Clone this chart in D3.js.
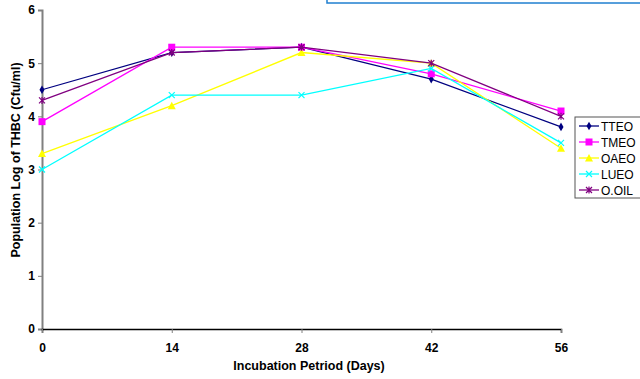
<!DOCTYPE html>
<html>
<head>
<meta charset="utf-8">
<script src="https://cdn.jsdelivr.net/npm/d3@7"></script>
<style>
body { margin: 0; background: #fff; }
svg { font-family: Arial, "Liberation Sans", sans-serif; }
.tick text { font-weight: bold; font-size: 12px; fill: #000; }
</style>
</head>
<body>
<svg width="640" height="379"></svg>
<script>
// values
var days = [0, 14, 28, 42, 56];
var ttEO  = [4.5, 5.2, 5.3, 4.7, 3.8];
var tmEO  = [3.9, 5.3, 5.3, 4.8, 4.1];
var oaEO  = [3.3, 4.2, 5.2, 5.0, 3.4];
var luEO  = [3.0, 4.4, 4.4, 4.9, 3.5];
var oOil  = [4.3, 5.2, 5.3, 5.0, 4.0];
var yTicks = [0, 1, 2, 3, 4, 5, 6];

var series = [
  { name: "TTEO",  values: ttEO, color: "#000080", mark: "diamond" },
  { name: "TMEO",  values: tmEO, color: "#ff00ff", mark: "square" },
  { name: "OAEO",  values: oaEO, color: "#ffff00", mark: "triangle" },
  { name: "LUEO",  values: luEO, color: "#00ffff", mark: "cross" },
  { name: "O.OIL", values: oOil, color: "#800080", mark: "star" }
];

var svg = d3.select("svg");

// empty box peeking in at the top
svg.append("rect")
  .attr("x", 327).attr("y", -10).attr("width", 330).attr("height", 13)
  .attr("fill", "none").attr("stroke", "#1f7fd0").attr("stroke-width", 1.5);

var x = d3.scaleLinear().domain([0, 56]).range([42, 561]);
var y = d3.scaleLinear().domain([0, 6]).range([329, 10]);

// y axis (grey line)
var ya = svg.append("g").attr("transform", "translate(42,0)")
  .call(d3.axisLeft(y).tickValues(yTicks).tickFormat(d3.format("d")).tickSize(4).tickPadding(3));
ya.select(".domain").attr("stroke", "#808080").attr("stroke-width", 2);
ya.selectAll(".tick line").attr("stroke", "#808080");

// x axis
var xa = svg.append("g").attr("transform", "translate(0,329)")
  .call(d3.axisBottom(x).tickValues(days).tickSize(4).tickPadding(10));
xa.select(".domain").attr("stroke", "#000").attr("stroke-width", 1.5);
xa.selectAll(".tick line").attr("stroke", "#808080");

svg.append("text")
  .attr("transform", "translate(20,160) rotate(-90)")
  .attr("text-anchor", "middle")
  .attr("font-size", 12.5).attr("font-weight", "bold")
  .text("Population Log of THBC (Cfu/ml)");

svg.append("text")
  .attr("x", 309).attr("y", 370)
  .attr("text-anchor", "middle")
  .attr("font-size", 12.5).attr("font-weight", "bold")
  .text("Incubation Petriod (Days)");

function marker(g, kind, color) {
  if (kind == "diamond") {
    g.append("path").attr("d", d3.symbol(d3.symbolDiamond, 22)()).attr("fill", color);
  } else if (kind == "square") {
    g.append("rect").attr("x", -3.5).attr("y", -3.5).attr("width", 7).attr("height", 7).attr("fill", color);
  } else if (kind == "triangle") {
    g.append("path").attr("d", "M0,-4L4,3.5L-4,3.5Z").attr("fill", color);
  } else if (kind == "cross") {
    g.append("path").attr("d", "M-3,-3L3,3M-3,3L3,-3").attr("stroke", color).attr("stroke-width", 1.2);
  } else {
    g.append("path").attr("d", "M-3,-3L3,3M-3,3L3,-3M0,-3.5L0,3.5").attr("stroke", color).attr("stroke-width", 1.2);
  }
}

var line = d3.line()
  .x(function(d, i) { return x(days[i]); })
  .y(function(d) { return y(d); });

series.forEach(function(s) {
  svg.append("path")
    .attr("d", line(s.values))
    .attr("fill", "none")
    .attr("stroke", s.color)
    .attr("stroke-width", 1.3);
  s.values.forEach(function(v, i) {
    var g = svg.append("g").attr("transform", "translate(" + x(days[i]) + "," + y(v) + ")");
    marker(g, s.mark, s.color);
  });
});

// legend
var lg = svg.append("g").attr("transform", "translate(575,117)");
lg.append("rect").attr("x", 0).attr("y", 0).attr("width", 70).attr("height", 81)
  .attr("fill", "#fff").attr("stroke", "#555").attr("stroke-width", 1);
series.forEach(function(s, i) {
  var row = lg.append("g").attr("transform", "translate(0," + (9 + i * 16) + ")");
  row.append("line").attr("x1", 4).attr("x2", 24).attr("y1", 0).attr("y2", 0)
    .attr("stroke", s.color).attr("stroke-width", 1.3);
  var m = row.append("g").attr("transform", "translate(14,0)");
  marker(m, s.mark, s.color);
  row.append("text").attr("x", 26).attr("y", 4.5).attr("font-size", 12).text(s.name);
});
</script>
</body>
</html>
